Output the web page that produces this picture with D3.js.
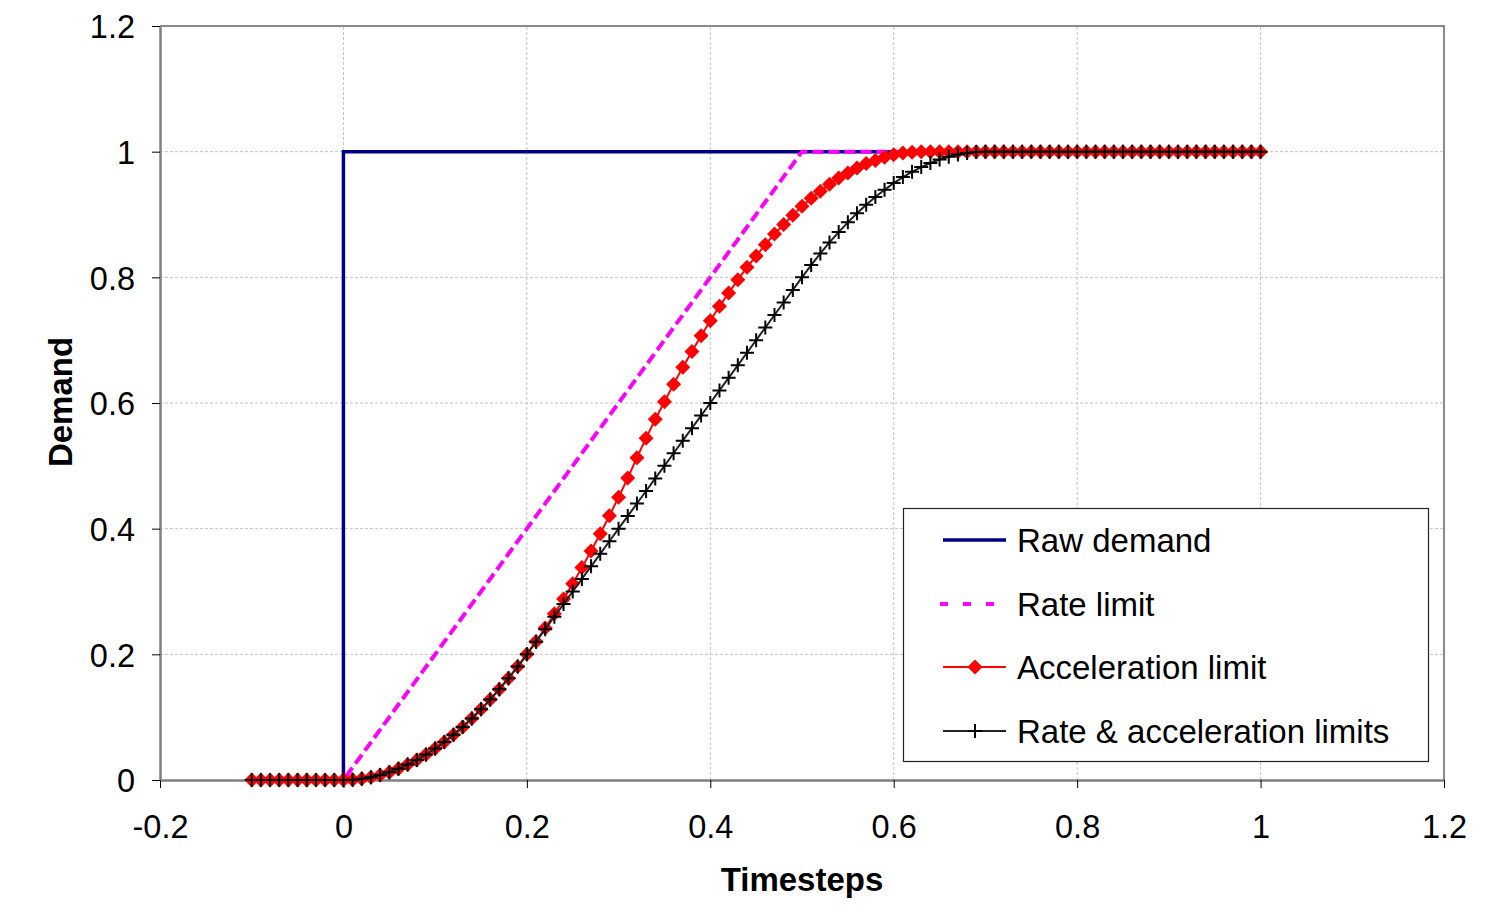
<!DOCTYPE html>
<html>
<head>
<meta charset="utf-8">
<script src="https://cdn.jsdelivr.net/npm/d3@7"></script>
<style>
  html, body { margin: 0; padding: 0; background: #fff; }
  svg { display: block; font-family: Arial, "Liberation Sans", Helvetica, sans-serif; }
</style>
</head>
<body>
<svg id="chart" width="1488" height="916"></svg>
<script>
// ---------------- data ----------------
const xTicks = [-0.2, 0, 0.2, 0.4, 0.6, 0.8, 1, 1.2];
const yTicks = [0, 0.2, 0.4, 0.6, 0.8, 1, 1.2];
const xTickLabels = ["-0.2", "0", "0.2", "0.4", "0.6", "0.8", "1", "1.2"];
const yTickLabels = ["0", "0.2", "0.4", "0.6", "0.8", "1", "1.2"];

const seriesNames = ["Raw demand", "Rate limit", "Acceleration limit", "Rate & acceleration limits"];

const rawTime = [-0.1, 0, 0, 1.0];
const rawDemand = [0, 0, 1, 1];

const rateTime = [-0.1, 0, 0.5, 1.0];
const rateLimit = [0, 0, 1, 1];

const timesteps = [
  -0.1, -0.09, -0.08, -0.07, -0.06, -0.05, -0.04, -0.03, -0.02, -0.01,
  0, 0.01, 0.02, 0.03, 0.04, 0.05, 0.06, 0.07, 0.08, 0.09,
  0.1, 0.11, 0.12, 0.13, 0.14, 0.15, 0.16, 0.17, 0.18, 0.19,
  0.2, 0.21, 0.22, 0.23, 0.24, 0.25, 0.26, 0.27, 0.28, 0.29,
  0.3, 0.31, 0.32, 0.33, 0.34, 0.35, 0.36, 0.37, 0.38, 0.39,
  0.4, 0.41, 0.42, 0.43, 0.44, 0.45, 0.46, 0.47, 0.48, 0.49,
  0.5, 0.51, 0.52, 0.53, 0.54, 0.55, 0.56, 0.57, 0.58, 0.59,
  0.6, 0.61, 0.62, 0.63, 0.64, 0.65, 0.66, 0.67, 0.68, 0.69,
  0.7, 0.71, 0.72, 0.73, 0.74, 0.75, 0.76, 0.77, 0.78, 0.79,
  0.8, 0.81, 0.82, 0.83, 0.84, 0.85, 0.86, 0.87, 0.88, 0.89,
  0.9, 0.91, 0.92, 0.93, 0.94, 0.95, 0.96, 0.97, 0.98, 0.99,
  1.0
];

const accelLimit = [
  0, 0, 0, 0, 0, 0, 0, 0, 0, 0,
  0, 0.0005, 0.002, 0.0045, 0.008, 0.0125, 0.018, 0.0245, 0.032, 0.0405,
  0.05, 0.0605, 0.072, 0.0845, 0.098, 0.1125, 0.128, 0.1445, 0.162, 0.1805,
  0.2, 0.2205, 0.242, 0.2645, 0.288, 0.3125, 0.338, 0.3645, 0.392, 0.4205,
  0.45, 0.4805, 0.513, 0.544, 0.574, 0.602, 0.630, 0.657, 0.682, 0.707,
  0.731, 0.754, 0.775, 0.796, 0.816, 0.834, 0.852, 0.869, 0.884, 0.899,
  0.913, 0.926, 0.937, 0.948, 0.958, 0.966, 0.974, 0.981, 0.986, 0.991,
  0.995, 0.998, 0.999, 1, 1, 1, 1, 1, 1, 1,
  1, 1, 1, 1, 1, 1, 1, 1, 1, 1,
  1, 1, 1, 1, 1, 1, 1, 1, 1, 1,
  1, 1, 1, 1, 1, 1, 1, 1, 1, 1,
  1
];

const rateAccelLimit = [
  0, 0, 0, 0, 0, 0, 0, 0, 0, 0,
  0, 0.0005, 0.002, 0.0045, 0.008, 0.0125, 0.018, 0.0245, 0.032, 0.0405,
  0.05, 0.0605, 0.072, 0.0845, 0.098, 0.1125, 0.128, 0.1445, 0.162, 0.1805,
  0.2, 0.22, 0.24, 0.26, 0.28, 0.30, 0.32, 0.34, 0.36, 0.38,
  0.40, 0.42, 0.44, 0.46, 0.48, 0.50, 0.52, 0.54, 0.56, 0.58,
  0.60, 0.62, 0.64, 0.66, 0.68, 0.70, 0.72, 0.74, 0.76, 0.78,
  0.80, 0.8195, 0.838, 0.8555, 0.872, 0.8875, 0.902, 0.9155, 0.928, 0.9395,
  0.95, 0.9595, 0.968, 0.9755, 0.982, 0.9875, 0.992, 0.9955, 0.998, 0.9995,
  1, 1, 1, 1, 1, 1, 1, 1, 1, 1,
  1, 1, 1, 1, 1, 1, 1, 1, 1, 1,
  1, 1, 1, 1, 1, 1, 1, 1, 1, 1,
  1
];

// ---------------- drawing ----------------
const svg = d3.select("#chart");
const x = d3.scaleLinear().domain([-0.2, 1.2]).range([160, 1444]);
const y = d3.scaleLinear().domain([0, 1.2]).range([780, 26]);

// gridlines
const grid = svg.append("g");
grid.selectAll("line.v").data(xTicks.slice(1, -1)).join("line")
  .attr("x1", d => x(d)).attr("x2", d => x(d))
  .attr("y1", y(0)).attr("y2", y(1.2))
  .attr("stroke", "#c4c4c4").attr("stroke-width", 1).attr("stroke-dasharray", "3,2");
grid.selectAll("line.h").data(yTicks.slice(1, -1)).join("line")
  .attr("y1", d => y(d)).attr("y2", d => y(d))
  .attr("x1", x(-0.2)).attr("x2", x(1.2))
  .attr("stroke", "#c4c4c4").attr("stroke-width", 1).attr("stroke-dasharray", "3,2");

// frame top/right
svg.append("path")
  .attr("d", `M${x(-0.2)},${y(1.2)}H${x(1.2)}V${y(0)}`)
  .attr("fill", "none").attr("stroke", "#8a8a8a").attr("stroke-width", 2);

// axes
const xAxis = d3.axisBottom(x).tickValues(xTicks).tickFormat((d, i) => xTickLabels[i]).tickSize(8).tickSizeOuter(0);
const yAxis = d3.axisLeft(y).tickValues(yTicks).tickFormat((d, i) => yTickLabels[i]).tickSize(8).tickSizeOuter(0);

const gx = svg.append("g").attr("transform", `translate(0,${y(0)})`).call(xAxis);
const gy = svg.append("g").attr("transform", `translate(${x(-0.2)},0)`).call(yAxis);
[gx, gy].forEach(g => {
  g.select(".domain").attr("stroke", "#808080").attr("stroke-width", 2.5);
  g.selectAll(".tick line").attr("stroke", "#000").attr("stroke-width", 1);
  g.selectAll(".tick text").attr("font-size", 32.5).attr("fill", "#000")
    .attr("font-family", "Arial, 'Liberation Sans', sans-serif");
});
gx.selectAll(".tick text").attr("dy", null).attr("y", 58);
gy.selectAll(".tick text").attr("x", -25).attr("dy", "0.36em");

// axis titles
svg.append("text").attr("x", 802).attr("y", 891).attr("text-anchor", "middle")
  .attr("font-size", 33).attr("font-weight", "bold").text("Timesteps");
svg.append("text").attr("transform", "translate(72,402) rotate(-90)").attr("text-anchor", "middle")
  .attr("font-size", 33).attr("font-weight", "bold").text("Demand");

// series
const line = d3.line().x(d => x(d[0])).y(d => y(d[1]));
const zip = (a, b) => a.map((v, i) => [v, b[i]]);

svg.append("path").attr("d", line(zip(rawTime, rawDemand)))
  .attr("fill", "none").attr("stroke", "#000080").attr("stroke-width", 3.5);

svg.append("path").attr("d", line(zip(rateTime, rateLimit)))
  .attr("fill", "none").attr("stroke", "#ff00ff").attr("stroke-width", 4)
  .attr("stroke-dasharray", "11,5");

const accelPts = zip(timesteps, accelLimit);
svg.append("path").attr("d", line(accelPts))
  .attr("fill", "none").attr("stroke", "#ff0000").attr("stroke-width", 2);
const diamond = "M0,-7.5L7.5,0L0,7.5L-7.5,0Z";
svg.append("g").selectAll("path").data(accelPts).join("path")
  .attr("transform", d => `translate(${x(d[0])},${y(d[1])})`)
  .attr("d", diamond).attr("fill", "#ff0000");

const raPts = zip(timesteps, rateAccelLimit);
svg.append("path").attr("d", line(raPts))
  .attr("fill", "none").attr("stroke", "#222").attr("stroke-width", 2);
const plus = "M-7,0H7M0,-7V7";
svg.append("g").selectAll("path").data(raPts).join("path")
  .attr("transform", d => `translate(${x(d[0])},${y(d[1])})`)
  .attr("d", plus).attr("fill", "none").attr("stroke", "#000").attr("stroke-width", 2);

// legend
const lg = svg.append("g");
lg.append("rect").attr("x", 903.5).attr("y", 508.5).attr("width", 525).attr("height", 253)
  .attr("fill", "#fff").attr("stroke", "#222").attr("stroke-width", 1.2);
const rowsY = [540, 604, 667, 731];
const lx1 = 943, lx2 = 1006, lxm = 975;
lg.append("line").attr("x1", lx1).attr("x2", lx2).attr("y1", rowsY[0]).attr("y2", rowsY[0])
  .attr("stroke", "#000080").attr("stroke-width", 3.5);
lg.append("line").attr("x1", lx1 - 3).attr("x2", lx2).attr("y1", rowsY[1]).attr("y2", rowsY[1])
  .attr("stroke", "#ff00ff").attr("stroke-width", 4).attr("stroke-dasharray", "8,15");
lg.append("line").attr("x1", lx1).attr("x2", lx2).attr("y1", rowsY[2]).attr("y2", rowsY[2])
  .attr("stroke", "#ff0000").attr("stroke-width", 2);
lg.append("path").attr("transform", `translate(${lxm},${rowsY[2]})`).attr("d", diamond).attr("fill", "#ff0000");
lg.append("line").attr("x1", lx1).attr("x2", lx2).attr("y1", rowsY[3]).attr("y2", rowsY[3])
  .attr("stroke", "#222").attr("stroke-width", 2);
lg.append("path").attr("transform", `translate(${lxm},${rowsY[3]})`).attr("d", plus)
  .attr("stroke", "#000").attr("stroke-width", 2);
lg.selectAll("text").data(seriesNames).join("text")
  .attr("x", 1017).attr("y", (d, i) => rowsY[i]).attr("dy", "0.36em")
  .attr("font-size", 33).attr("fill", "#000").text(d => d);
</script>
</body>
</html>
